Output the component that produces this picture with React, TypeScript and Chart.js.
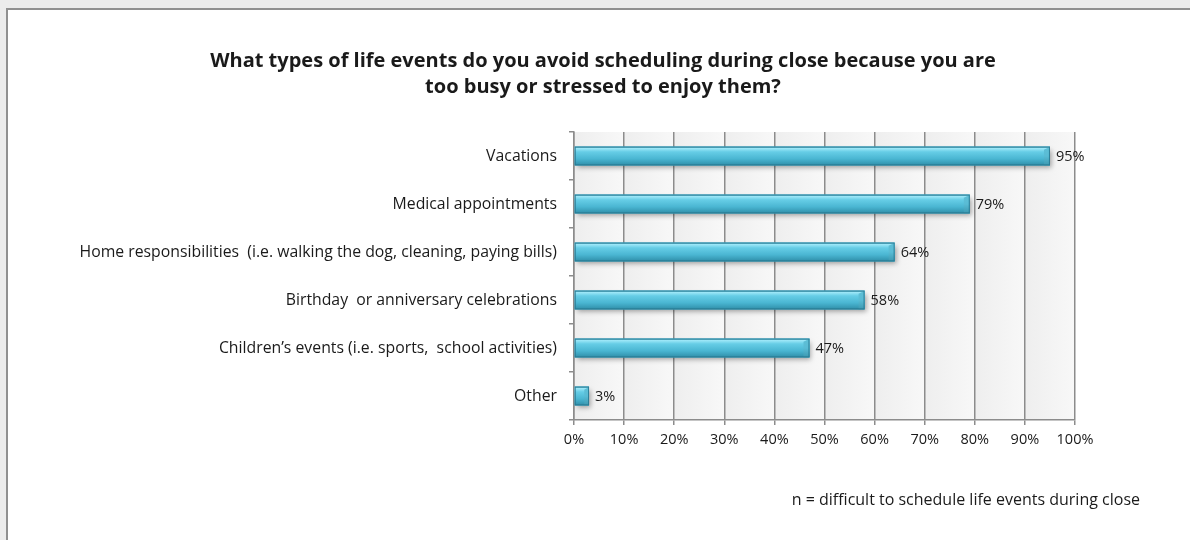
import React, { useEffect, useRef } from "react";
import { Chart, registerables } from "chart.js";

Chart.register(...registerables);

const categories = [
  "Vacations",
  "Medical appointments",
  "Home responsibilities  (i.e. walking the dog, cleaning, paying bills)",
  "Birthday  or anniversary celebrations",
  "Children\u2019s events (i.e. sports,  school activities)",
  "Other",
];
const values = [95, 79, 64, 58, 47, 3];
const titleLines = [
  "What types of life events do you avoid scheduling during close because you are",
  "too busy or stressed to enjoy them?",
];
const footnote = "n = difficult to schedule life events during close";

const FONT = "'Open Sans', Lato, sans-serif";

const plotBackground = {
  id: "plotBackground",
  beforeDraw(chart: any) {
    const { ctx, chartArea } = chart;
    const xs = chart.scales.x;
    ctx.save();
    const ticks = xs.ticks;
    for (let i = 0; i < ticks.length - 1; i++) {
      const a = xs.getPixelForValue(ticks[i].value);
      const b = xs.getPixelForValue(ticks[i + 1].value);
      const g = ctx.createLinearGradient(a, 0, b, 0);
      g.addColorStop(0, "#eeeeee");
      g.addColorStop(1, "#f8f8f8");
      ctx.fillStyle = g;
      ctx.fillRect(a, chartArea.top, b - a, chartArea.bottom - chartArea.top);
    }
    ctx.restore();
  },
};

const barStyle = {
  id: "barStyle",
  beforeDatasetsDraw(chart: any) {
    const { ctx } = chart;
    const meta = chart.getDatasetMeta(0);
    ctx.save();
    meta.data.forEach((el: any) => {
      const { x, y, base, height } = el.getProps(["x", "y", "base", "height"], true);
      ctx.shadowColor = "rgba(0,0,0,0.35)";
      ctx.shadowBlur = 5;
      ctx.shadowOffsetX = 2;
      ctx.shadowOffsetY = 3;
      ctx.fillStyle = "#3b9fb9";
      ctx.fillRect(base, y - height / 2, x - base, height);
    });
    ctx.restore();
  },
  afterDatasetsDraw(chart: any) {
    const { ctx } = chart;
    const meta = chart.getDatasetMeta(0);
    ctx.save();
    meta.data.forEach((el: any, i: number) => {
      const { x, y, base, height } = el.getProps(["x", "y", "base", "height"], true);
      const top = y - height / 2;
      const g = ctx.createLinearGradient(0, top, 0, top + height);
      g.addColorStop(0, "#4fb3cc");
      g.addColorStop(0.1, "#9be6f7");
      g.addColorStop(0.28, "#66cde6");
      g.addColorStop(0.65, "#4ab6d2");
      g.addColorStop(1, "#2f8ea8");
      ctx.fillStyle = g;
      ctx.fillRect(base, top, x - base, height);
      const cw = Math.min(6, (x - base) / 3);
      const cg = ctx.createLinearGradient(0, top, 0, top + height);
      cg.addColorStop(0, "#5fbfd6");
      cg.addColorStop(0.5, "#59bcd5");
      cg.addColorStop(1, "#3b98b0");
      ctx.fillStyle = cg;
      ctx.beginPath();
      ctx.moveTo(x - cw, top + 3);
      ctx.lineTo(x, top);
      ctx.lineTo(x, top + height);
      ctx.lineTo(x - cw, top + height);
      ctx.closePath();
      ctx.fill();
      ctx.strokeStyle = "rgba(40,120,145,0.9)";
      ctx.lineWidth = 1;
      ctx.strokeRect(base + 0.5, top + 0.5, x - base - 1, height - 1);
      ctx.fillStyle = "#1a1a1a";
      ctx.font = `14.5px ${FONT}`;
      ctx.textAlign = "left";
      ctx.textBaseline = "middle";
      ctx.fillText(`${values[i]}%`, x + 6, y + 1);
    });
    ctx.restore();
  },
};

export default function App() {
  const ref = useRef<HTMLCanvasElement | null>(null);
  useEffect(() => {
    if (!ref.current) return;
    const chart = new Chart(ref.current, {
      type: "bar",
      data: {
        labels: categories,
        datasets: [
          {
            data: values,
            backgroundColor: "#4fb9d4",
            borderWidth: 0,
            barPercentage: 0.39,
            categoryPercentage: 1,
          },
        ],
      },
      options: {
        indexAxis: "y",
        responsive: false,
        animation: false,
        layout: { padding: { left: 16, right: 115, top: 132, bottom: 88 } },
        plugins: {
          legend: { display: false },
          tooltip: { enabled: false },
          title: { display: false },
        },
        scales: {
          x: {
            min: 0,
            max: 100,
            ticks: {
              stepSize: 10,
              color: "#1a1a1a",
              font: { family: FONT, size: 14.5 },
              padding: 6,
              callback: (v: any) => `${v}%`,
            },
            grid: { color: "#8c8c8c", lineWidth: 1.5, tickLength: 5 },
            border: { color: "#8c8c8c", width: 1.5 },
            afterFit: (s: any) => {
              s.height = 32;
            },
          },
          y: {
            ticks: {
              color: "#1a1a1a",
              font: { family: FONT, size: 15.8 },
              padding: 12,
            },
            grid: {
              display: true,
              drawOnChartArea: false,
              offset: true,
              tickLength: 5,
              color: "#8c8c8c",
              lineWidth: 1.5,
            },
            border: { color: "#8c8c8c", width: 1.5 },
            afterFit: (s: any) => {
              s.width = 558;
            },
          },
        },
      },
      plugins: [plotBackground, barStyle],
    });
    return () => chart.destroy();
  }, []);

  return (
    <div
      style={{
        position: "fixed",
        left: 0,
        top: 0,
        width: 1190,
        height: 540,
        background: "#ececec",
        overflow: "hidden",
      }}
    >
      <div
        style={{
          position: "absolute",
          left: 6,
          top: 8,
          width: 1210,
          height: 560,
          background: "#ffffff",
          borderLeft: "2px solid #909090",
          borderTop: "2px solid #909090",
        }}
      />
      <canvas
        ref={ref}
        width={1190}
        height={540}
        style={{ position: "absolute", left: 0, top: 0, width: 1190, height: 540 }}
      />
      <div
        style={{
          position: "absolute",
          left: 0,
          top: 47,
          width: 1206,
          textAlign: "center",
          fontFamily: FONT,
          fontSize: 20,
          fontWeight: 700,
          lineHeight: "26px",
          color: "#1a1a1a",
        }}
      >
        {titleLines.map((t, i) => (
          <div key={i} style={{ whiteSpace: "nowrap" }}>
            {t}
          </div>
        ))}
      </div>
      <div
        style={{
          position: "absolute",
          right: 50,
          top: 488,
          fontFamily: FONT,
          fontSize: 16,
          color: "#1a1a1a",
          whiteSpace: "nowrap",
        }}
      >
        {footnote}
      </div>
    </div>
  );
}
